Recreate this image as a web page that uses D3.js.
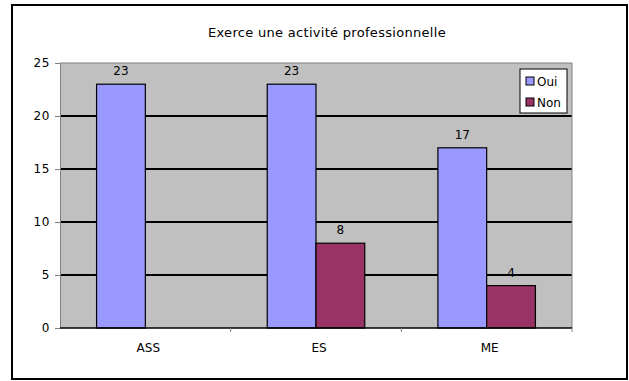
<!DOCTYPE html>
<html>
<head>
<meta charset="utf-8">
<script src="https://cdn.jsdelivr.net/npm/d3@7"></script>
<style>
  html, body { margin: 0; padding: 0; background: #fff; }
  svg text { font-family: "DejaVu Sans", Verdana, sans-serif; fill: #000; }
</style>
</head>
<body>
<svg id="chart" width="629" height="381"></svg>
<script>
// Chart data
const title = "Exerce une activité professionnelle";
const categories = ["ASS", "ES", "ME"];
const seriesNames = ["Oui", "Non"];
const ouiValues = [23, 23, 17];
const nonValues = [null, 8, 4];
const yTicks = [0, 5, 10, 15, 20, 25];
const colors = ["#9999FF", "#993366"];

const series = [ouiValues, nonValues];

const svg = d3.select("#chart");

// Outer frame
svg.append("rect")
  .attr("x", 12).attr("y", 5)
  .attr("width", 615).attr("height", 374)
  .attr("fill", "#fff").attr("stroke", "#000").attr("stroke-width", 2);

const plot = { left: 60, top: 63, right: 572, bottom: 328 };

const x0 = d3.scaleBand().domain(categories).range([plot.left, plot.right]).padding(0);
const x1 = d3.scaleBand().domain(seriesNames)
  .range([0, x0.bandwidth()]).paddingInner(0).paddingOuter(0.75);
const y = d3.scaleLinear().domain([0, 25]).range([plot.bottom, plot.top]);

// Plot background
svg.append("rect")
  .attr("x", plot.left).attr("y", plot.top)
  .attr("width", plot.right - plot.left).attr("height", plot.bottom - plot.top)
  .attr("fill", "#C0C0C0");

// Gridlines
svg.append("g").selectAll("line")
  .data(yTicks.filter(t => t > 0 && t < 25))
  .join("line")
  .attr("x1", plot.left).attr("x2", plot.right)
  .attr("y1", d => y(d)).attr("y2", d => y(d))
  .attr("stroke", "#000").attr("stroke-width", 2);

// Plot border (top and right)
svg.append("path")
  .attr("d", `M${plot.left},${plot.top}H${plot.right}V${plot.bottom}`)
  .attr("fill", "none").attr("stroke", "#808080").attr("stroke-width", 1);

// Bars
const groups = svg.append("g").selectAll("g")
  .data(categories)
  .join("g")
  .attr("transform", d => `translate(${x0(d)},0)`);

groups.selectAll("rect")
  .data((c, i) => seriesNames.map((s, j) => ({ s, v: series[j][i], color: colors[j] })).filter(d => d.v != null))
  .join("rect")
  .attr("x", d => x1(d.s))
  .attr("y", d => y(d.v))
  .attr("width", x1.bandwidth())
  .attr("height", d => y(0) - y(d.v))
  .attr("fill", d => d.color)
  .attr("stroke", "#000").attr("stroke-width", 1.2);

groups.selectAll("text")
  .data((c, i) => seriesNames.map((s, j) => ({ s, v: series[j][i] })).filter(d => d.v != null))
  .join("text")
  .attr("x", d => x1(d.s) + x1.bandwidth() / 2)
  .attr("y", d => y(d.v) - 9)
  .attr("text-anchor", "middle")
  .attr("font-size", 12)
  .attr("fill", "#222")
  .text(d => d.v);

// Y axis
const yAxis = d3.axisLeft(y).tickValues(yTicks).tickSize(5).tickPadding(5);
const yg = svg.append("g").attr("transform", `translate(${plot.left},0)`).call(yAxis);
yg.select(".domain").attr("stroke", "#808080");
yg.selectAll(".tick line").attr("stroke", "#808080");
yg.selectAll(".tick text")
  .attr("font-size", 12)
  .attr("letter-spacing", 0.6)
  .attr("font-family", "DejaVu Sans, Verdana, sans-serif")
  .attr("fill", "#222");

// X axis: ticks between categories
svg.append("line")
  .attr("x1", plot.left).attr("x2", plot.right)
  .attr("y1", plot.bottom).attr("y2", plot.bottom)
  .attr("stroke", "#000").attr("stroke-width", 1.5);
const boundaries = categories.map(c => x0(c) + x0.bandwidth());
svg.append("g").selectAll("line")
  .data(boundaries)
  .join("line")
  .attr("x1", d => d).attr("x2", d => d)
  .attr("y1", plot.bottom).attr("y2", plot.bottom + 4)
  .attr("stroke", "#808080");
svg.append("g").selectAll("text")
  .data(categories)
  .join("text")
  .attr("x", d => x0(d) + x0.bandwidth() / 2 + 3)
  .attr("y", 352)
  .attr("text-anchor", "middle")
  .attr("font-size", 12)
  .attr("fill", "#222")
  .text(d => d);

// Title
svg.append("text")
  .attr("x", 327).attr("y", 37)
  .attr("text-anchor", "middle")
  .attr("font-size", 13)
  .attr("letter-spacing", 0.3)
  .attr("fill", "#222")
  .text(title);

// Legend
const legend = svg.append("g");
legend.append("rect")
  .attr("x", 520).attr("y", 69).attr("width", 47).attr("height", 44)
  .attr("fill", "#fff").attr("stroke", "#000").attr("stroke-width", 1);
const items = legend.selectAll("g.item")
  .data(seriesNames)
  .join("g").attr("class", "item")
  .attr("transform", (d, i) => `translate(526,${81 + i * 21})`);
items.append("rect")
  .attr("x", 0).attr("y", -4).attr("width", 8).attr("height", 8)
  .attr("fill", (d, i) => colors[i]).attr("stroke", "#000").attr("stroke-width", 1);
items.append("text")
  .attr("x", 11).attr("y", 4.5)
  .attr("font-size", 12)
  .attr("fill", "#222")
  .text(d => d);
</script>
</body>
</html>
